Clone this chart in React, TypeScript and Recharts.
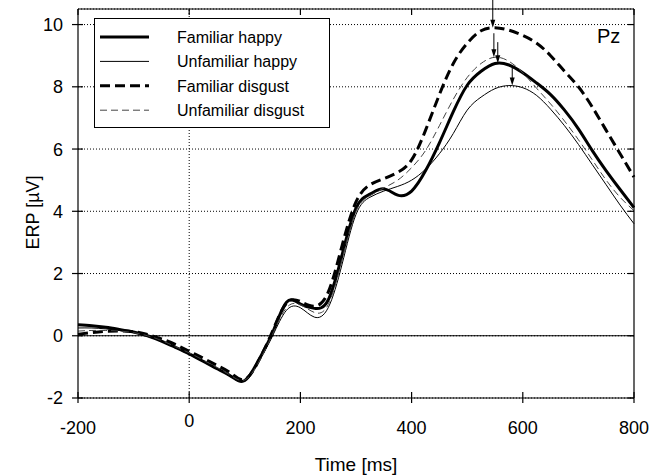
import { LineChart, Line, XAxis, YAxis, CartesianGrid, ReferenceLine, ReferenceDot, Legend } from 'recharts';

// ERP at Pz, sampled every 25 ms
const times = [
  -200, -175, -150, -125, -100, -75, -50, -25, 0, 25, 50, 75, 100, 125, 150, 175, 200, 225, 250, 275,
  300, 325, 350, 375, 400, 425, 450, 475, 500, 525, 550, 575, 600, 625, 650, 675, 700, 725, 750, 775, 800,
];
const familiarHappy = [
  0.35, 0.32, 0.27, 0.2, 0.12, 0.0, -0.17, -0.37, -0.58, -0.82, -1.06, -1.3, -1.44, -0.78, 0.1, 1.08, 1.02, 0.88, 1.15, 2.6,
  4.1, 4.55, 4.72, 4.52, 4.65, 5.3, 6.2, 7.2, 8.05, 8.5, 8.75, 8.7, 8.45, 8.12, 7.75, 7.25, 6.65, 5.95, 5.3, 4.7, 4.12,
];
const unfamiliarHappy = [
  0.25, 0.25, 0.22, 0.17, 0.1, -0.02, -0.18, -0.38, -0.6, -0.83, -1.07, -1.32, -1.45, -0.82, 0.0, 0.82, 0.9, 0.6, 0.9, 2.3,
  3.9, 4.45, 4.65, 4.8, 5.0, 5.35, 5.85, 6.5, 7.25, 7.67, 7.94, 8.04, 7.97, 7.72, 7.28, 6.75, 6.15, 5.5, 4.85, 4.2, 3.6,
];
const familiarDisgust = [
  0.05, 0.1, 0.14, 0.15, 0.13, 0.04, -0.1, -0.28, -0.5, -0.72, -0.95, -1.2, -1.4, -0.8, 0.15, 1.05, 1.1, 0.95, 1.4, 2.9,
  4.3, 4.85, 5.05, 5.25, 5.65, 6.6, 7.75, 8.75, 9.4, 9.8, 9.9, 9.82, 9.65, 9.4, 9.0, 8.5, 8.0, 7.35, 6.6, 5.85, 5.1,
];
const unfamiliarDisgust = [
  0.15, 0.17, 0.17, 0.15, 0.1, 0.0, -0.15, -0.35, -0.55, -0.78, -1.02, -1.28, -1.42, -0.85, 0.05, 0.9, 1.0, 0.75, 1.0, 2.45,
  4.0, 4.5, 4.75, 5.0, 5.4, 5.95, 6.75, 7.6, 8.3, 8.75, 8.95, 8.82, 8.45, 7.95, 7.45, 6.9, 6.3, 5.65, 5.0, 4.45, 4.02,
];

const seriesNames = ['Familiar happy', 'Unfamiliar happy', 'Familiar disgust', 'Unfamiliar disgust'];
const peakLatency = [555, 581, 546, 548];
const peakAmplitude = [8.76, 8.04, 9.9, 8.95];

const xTicks = [-200, 0, 200, 400, 600, 800];
const yTicks = [-2, 0, 2, 4, 6, 8, 10];

const data = times.map((t, i) => ({
  t,
  fh: familiarHappy[i],
  uh: unfamiliarHappy[i],
  fd: familiarDisgust[i],
  ud: unfamiliarDisgust[i],
}));

const FONT = '"Liberation Sans", Arial, Helvetica, sans-serif';
const TICK_FS = 18;
const W = 649;
const H = 476;

const series = [
  { key: 'fh', width: 3, dash: undefined as string | undefined, color: '#000', arrow: 21 },
  { key: 'uh', width: 1, dash: undefined as string | undefined, color: '#000', arrow: 20 },
  { key: 'fd', width: 3, dash: '10 5', color: '#000', arrow: 30 },
  { key: 'ud', width: 1, dash: '7 4', color: '#444', arrow: 24 },
];

function LeftTick({ x, y, payload }: any) {
  return (
    <g>
      <line x1={x - 6} x2={x + 5} y1={y} y2={y} stroke="#000" strokeWidth={1.2} />
      <text x={x - 15} y={y} dy="0.36em" textAnchor="end" fontSize={TICK_FS} fontFamily={FONT} fill="#000">
        {payload.value}
      </text>
    </g>
  );
}

function RightTick({ x, y }: any) {
  return <line x1={x - 6} x2={x} y1={y} y2={y} stroke="#000" strokeWidth={1.2} />;
}

function TopTick({ x, y }: any) {
  return <line x1={x} x2={x} y1={y} y2={y + 6} stroke="#000" strokeWidth={1.2} />;
}

function BottomTick({ x, y, payload }: any) {
  const lift = payload.value === 0 ? -7 : 0;
  return (
    <g>
      <line x1={x} x2={x} y1={y - 6} y2={y + 5} stroke="#000" strokeWidth={1.2} />
      <text x={x} y={y + 30 + lift} dy="0.36em" textAnchor="middle" fontSize={TICK_FS} fontFamily={FONT} fill="#000">
        {payload.value}
      </text>
    </g>
  );
}

const arrowShape = (len: number) => (props: any) => {
  const { cx, cy } = props;
  return (
    <g>
      <line x1={cx} x2={cx} y1={cy - len} y2={cy - 5} stroke="#000" strokeWidth={1} />
      <path d={`M${cx - 2.5},${cy - 8} L${cx + 2.5},${cy - 8} L${cx},${cy} Z`} fill="#000" />
    </g>
  );
};

const renderLegend = () => (
  <svg width={236} height={110} style={{ display: 'block' }}>
    <rect x={0.5} y={0.5} width={235} height={109} fill="#fff" stroke="#000" strokeWidth={1} />
    {series.map((s, i) => {
      const y = 19 + i * 24.4;
      return (
        <g key={s.key}>
          <line x1={6} x2={55} y1={y} y2={y} stroke={s.color} strokeWidth={s.width} strokeDasharray={s.dash} />
          <text x={83} y={y} dy="0.36em" fontSize={16} fontFamily={FONT} fill="#000">
            {seriesNames[i]}
          </text>
        </g>
      );
    })}
  </svg>
);

export default function App() {
  return (
    <div style={{ position: 'absolute', left: 0, top: 0, width: W, height: H, background: '#fff' }}>
      <LineChart width={W} height={H} data={data} margin={{ top: 0, right: 0, bottom: 0, left: 0 }}>
        <CartesianGrid vertical={false} stroke="#000" strokeDasharray="1 2" />
        <XAxis
          dataKey="t"
          type="number"
          domain={[-200, 800]}
          ticks={xTicks}
          height={78}
          stroke="#000"
          strokeWidth={1.2}
          tickLine={false}
          tickSize={0}
          tickMargin={0}
          tick={<BottomTick />}
          interval={0}
          label={({ viewBox }: any) => (
            <text
              x={viewBox.x + viewBox.width / 2}
              y={viewBox.y + 66}
              dy="0.36em"
              textAnchor="middle"
              fontSize={19}
              fontFamily={FONT}
              fill="#000"
            >
              Time [ms]
            </text>
          )}
        />
        <XAxis
          xAxisId="top"
          orientation="top"
          dataKey="t"
          type="number"
          domain={[-200, 800]}
          ticks={xTicks}
          height={9}
          stroke="#000"
          strokeWidth={1.2}
          tickLine={false}
          tickSize={0}
          tickMargin={0}
          tick={<TopTick />}
          interval={0}
        />
        <YAxis
          type="number"
          domain={[-2, 10.5]}
          ticks={yTicks}
          width={78}
          stroke="#000"
          strokeWidth={1.2}
          tickLine={false}
          tickSize={0}
          tickMargin={0}
          tick={<LeftTick />}
          interval={0}
          allowDataOverflow
          label={({ viewBox }: any) => {
            const cx = 33;
            const cy = viewBox.y + viewBox.height / 2 + 9;
            return (
              <text
                x={cx}
                y={cy}
                dy="0.36em"
                textAnchor="middle"
                transform={`rotate(-90 ${cx} ${cy})`}
                fontSize={18}
                fontFamily={FONT}
                fill="#000"
              >
                ERP [µV]
              </text>
            );
          }}
        />
        <YAxis
          yAxisId="right"
          orientation="right"
          type="number"
          domain={[-2, 10.5]}
          ticks={yTicks}
          width={15}
          stroke="#000"
          strokeWidth={1.2}
          tickLine={false}
          tickSize={0}
          tickMargin={0}
          tick={<RightTick />}
          interval={0}
          allowDataOverflow
        />
        <ReferenceLine y={0} stroke="#000" strokeWidth={1.2} />
        <ReferenceLine x={0} stroke="#000" strokeWidth={1} strokeDasharray="1 2" />
        <Legend
          layout="vertical"
          align="center"
          verticalAlign="middle"
          content={renderLegend}
          wrapperStyle={{ left: 94, top: 18, width: 236, height: 110 }}
        />
        {series.map((s) => (
          <Line
            key={s.key}
            dataKey={s.key}
            type="natural"
            stroke={s.color}
            strokeWidth={s.width}
            strokeDasharray={s.dash}
            dot={false}
            activeDot={false}
            isAnimationActive={false}
          />
        ))}
        {series.map((s, i) => (
          <ReferenceDot
            key={`pk-${s.key}`}
            x={peakLatency[i]}
            y={peakAmplitude[i]}
            ifOverflow="visible"
            shape={arrowShape(s.arrow)}
          />
        ))}
      </LineChart>
      <div
        style={{
          position: 'absolute',
          left: 597,
          top: 26,
          fontSize: 20,
          lineHeight: '20px',
          fontFamily: FONT,
          color: '#000',
        }}
      >
        Pz
      </div>
    </div>
  );
}
